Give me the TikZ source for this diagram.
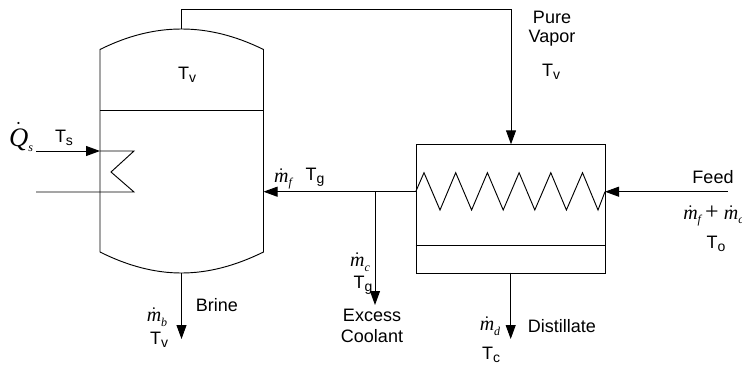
\documentclass[tikz,border=0pt]{standalone}
\usepackage{fontspec}
\setmainfont{Liberation Sans}
\newfontfamily\ratefont{Liberation Serif}
\usetikzlibrary{calc}
\usetikzlibrary{positioning}
\usetikzlibrary{arrows.meta}
\newcommand{\tempsub}[2]{#1\raisebox{-0.35ex}{\fontsize{10.5pt}{12pt}\selectfont #2}}
\newcommand{\ratevar}[2]{\ensuremath{\dot{\hbox{\ratefont\itshape #1}}}\raisebox{-0.4ex}{\fontsize{9pt}{10pt}\ratefont\itshape #2}}
\tikzset{
  pipe/.style={draw=black, line width=0.7pt, line join=miter},
  flow/.style={pipe, -{Triangle[length=10.5pt,width=7.5pt]}},
  lbl/.style={inner sep=0pt, font=\fontsize{13.5pt}{15pt}\selectfont},
  rate/.style={inner sep=0pt, font=\fontsize{15pt}{17pt}\selectfont}
}

\begin{document}
\begin{tikzpicture}[x=0.75pt, y=-0.75pt]
  \useasboundingbox (0,0) rectangle (742,364);
  \clip (0,0) rectangle (742,364);

  % evaporator shell
  \coordinate (shelltl) at (100,49.5);
  \coordinate (shelltr) at (263.5,49.5);
  \coordinate (shellbl) at (100,252);
  \coordinate (shellbr) at (263.5,252);
  \coordinate (shelltop) at (181.5,29);
  \coordinate (shellbot) at (181.5,273);
  \draw[pipe] (shellbl) -- (shelltl)
    .. controls (128,35.5) and (155,29) .. (shelltop)
    .. controls (208,29) and (235,35.5) .. (shelltr)
    -- (shellbr)
    .. controls (235,266) and (208,273) .. (shellbot)
    .. controls (155,273) and (128,266) .. (shellbl);
  \draw[pipe] (100,110) -- (263.5,110);

  % heating coil
  \coordinate (steamin) at (36,151);
  \coordinate (steamwall) at (100,151);
  \coordinate (steamout) at (36,192);
  \draw[flow] (steamin) -- (steamwall);
  \draw[pipe] (steamwall) -- (134,151) -- (111,172) -- (134,192) -- (steamout);

  % condenser
  \node[draw, line width=0.7pt, minimum width=189.3pt*0.75, minimum height=128.4pt*0.75, inner sep=0pt, anchor=north west] (cond) at (415.7,144.3) {};
  \draw[pipe] (415.7,245.7) -- (605,245.7);
  \coordinate (coilin) at (415.7,191.7);
  \coordinate (coilout) at (605,191.7);
  \draw[pipe] (coilin)
    \foreach \i in {0,...,5}{
      -- ({424+31.7*\i},172.7) -- ({440+31.6*\i},210)
    } -- (coilout);

  % pipes
  \coordinate (vaporup) at (181.5,9);
  \coordinate (vaporcorner) at (511,9);
  \coordinate (vaporend) at (511,144.3);
  \draw[pipe] (shelltop) -- (vaporup) -- (vaporcorner);
  \draw[flow] (vaporcorner) -- (vaporend);
  \coordinate (feedin) at (727.7,191.7);
  \draw[flow] (feedin) -- (coilout);
  \coordinate (shellin) at (263.5,191.7);
  \draw[flow] (coilin) -- (shellin);
  \coordinate (tee) at (375,191.7);
  \coordinate (excessend) at (375,305);
  \draw[flow] (tee) -- (excessend);
  \coordinate (condbot) at (510.7,272.7);
  \coordinate (distend) at (510.7,339);
  \draw[flow] (condbot) -- (distend);
  \coordinate (brineend) at (181.5,339);
  \draw[flow] (shellbot) -- (brineend);

  % labels
  \node[lbl] (tvshell) at (187,75) {\tempsub{T}{v}};
  \node[lbl] (ts) at (64,138) {\tempsub{T}{s}};
  \node[rate, font=\fontsize{20pt}{22pt}\selectfont] (qs) at (21,137) {\ratevar{Q}{s}};
  \node[lbl] (pure) at (552,17) {Pure};
  \node[lbl] (vapor) at (552,38) {Vapor};
  \node[lbl] (tvpure) at (551,72) {\tempsub{T}{v}};
  \node[rate] (mf) at (283,179) {\ratevar{m}{f}};
  \node[lbl] (tgf) at (315,177) {\tempsub{T}{g}};
  \node[lbl] (feed) at (713,177) {Feed};
  \node[rate, anchor=west] (mtot) at (683,216) {\ratevar{m}{f}\hspace{3pt}{\fontsize{18pt}{18pt}\ratefont +}\hspace{4pt}\ratevar{m}{c}};
  \node[lbl] (to) at (716,244) {\tempsub{T}{o}};
  \node[rate] (mc) at (360,262) {\ratevar{m}{c}};
  \node[lbl] (tgc) at (363,285) {\tempsub{T}{g}};
  \node[lbl] (excess) at (372,315) {Excess};
  \node[lbl] (coolant) at (372,336) {Coolant};
  \node[rate] (md) at (490,326) {\ratevar{m}{d}};
  \node[lbl] (dist) at (562,326) {Distillate};
  \node[lbl] (tc) at (491,355) {\tempsub{T}{c}};
  \node[lbl] (brine) at (217,305) {Brine};
  \node[rate] (mb) at (157,317) {\ratevar{m}{b}};
  \node[lbl] (tvb) at (159,340) {\tempsub{T}{v}};
\end{tikzpicture}
\end{document}
